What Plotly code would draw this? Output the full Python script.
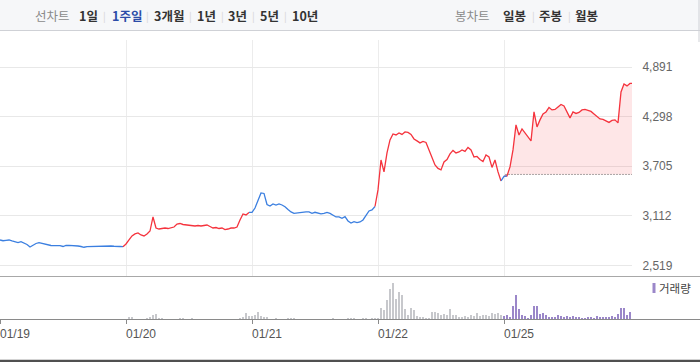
import plotly.graph_objects as go

W, H = 700, 362

# ---------------- data ----------------
DATES = ["01/19", "01/20", "01/21", "01/22", "01/25"]
PRICE_TICKS = [2519, 3112, 3705, 4298, 4891]
PRICE_TICK_TEXT = ["2,519", "3,112", "3,705", "4,298", "4,891"]
PREV_CLOSE = 3607

D1_PRICE = [2824, 2815, 2820, 2824, 2812, 2800, 2792, 2804, 2788, 2770, 2740, 2764, 2782, 2792,
            2782, 2770, 2760, 2758, 2756, 2758, 2756, 2746, 2758, 2760, 2760, 2756, 2752, 2746,
            2737, 2744, 2746, 2744, 2749, 2752, 2749, 2752, 2750, 2752, 2749, 2744, 2746, 2744]
D2_PRICE = [2776, 2824, 2872, 2896, 2908, 2884, 2872, 2896, 2931, 3099, 2967, 2955, 2961, 2967,
            2961, 2967, 2979, 3015, 3021, 3009, 3003, 2997, 2991, 2991, 2997, 2991, 2997, 3003,
            2985, 2967, 2973, 2961, 2967, 2949, 2955, 2967, 2967, 2979, 3063, 3135, 3123, 3153]
D3_PRICE = [3153, 3206, 3302, 3386, 3380, 3248, 3230, 3254, 3242, 3254, 3242, 3222, 3189, 3159,
            3141, 3147, 3153, 3159, 3159, 3159, 3143, 3155, 3143, 3135, 3141, 3153, 3141, 3117,
            3099, 3099, 3083, 3102, 3051, 3027, 3043, 3031, 3039, 3063, 3111, 3171, 3183, 3224]
D4_PRICE = [3422, 3780, 3637, 3864, 4020, 4091, 4079, 4103, 4085, 4115, 4109, 4085, 4031, 4008,
            3984, 4002, 3990, 3900, 3804, 3721, 3679, 3661, 3756, 3786, 3852, 3894, 3864, 3876,
            3900, 3882, 3930, 3900, 3816, 3822, 3786, 3762, 3840, 3816, 3691, 3780, 3637, 3529]
D5_PRICE = [3583, 3589, 3697, 3900, 4199, 4079, 4151, 4103, 4043, 4008, 4354, 4175, 4259, 4330,
            4354, 4408, 4378, 4384, 4414, 4444, 4426, 4354, 4283, 4354, 4336, 4348, 4378, 4384,
            4372, 4360, 4330, 4295, 4271, 4265, 4247, 4229, 4253, 4259, 4223, 4593, 4689, 4665, 4695]

D1_VOL = [100, 80, 100, 80, 100, 100, 80, 100, 80, 100, 80, 100, 100, 80,
          100, 80, 100, 80, 100, 100, 80, 100, 80, 100, 80, 100, 100, 80,
          100, 80, 100, 80, 100, 100, 80, 100, 80, 100, 80, 100, 100, 80]
D2_VOL = [300, 1700, 1700, 300, 300, 300, 300, 1300, 1700, 4000, 4700, 1000, 1000, 300,
          300, 300, 300, 300, 1000, 1000, 300, 300, 1000, 300, 300, 300, 300, 300,
          300, 300, 300, 300, 300, 300, 300, 300, 300, 300, 1300, 2000, 6000, 2700]
D3_VOL = [3300, 4000, 7300, 2700, 2000, 1700, 300, 300, 1000, 300, 300, 300, 1000, 1000,
          1000, 300, 300, 300, 300, 300, 300, 300, 300, 300, 300, 300, 300, 1000,
          300, 300, 300, 300, 1000, 1000, 1000, 300, 300, 1000, 1000, 300, 1000, 1000]
D4_VOL = [700, 11000, 8700, 19000, 29700, 35700, 20300, 26700, 24000, 10000, 3700, 11000, 8700, 3300,
          2000, 2000, 1300, 1000, 6700, 7000, 6000, 3700, 5000, 4300, 9700, 4300, 3700, 2300,
          2000, 3000, 2000, 4300, 3000, 5700, 2700, 3700, 3700, 3000, 6000, 5000, 6000, 3700]
D5_VOL = [3000, 4000, 2300, 13000, 24000, 9700, 3700, 3000, 1300, 3700, 13000, 13000, 4700, 6300,
          3700, 2000, 2300, 2000, 3700, 2700, 1700, 3300, 2000, 3000, 2000, 1700, 1300, 1300,
          1700, 1700, 1300, 3000, 2000, 2000, 2000, 1700, 3000, 1700, 5300, 10700, 10700, 3700, 7300]

PRICES = [D1_PRICE, D2_PRICE, D3_PRICE, D4_PRICE, D5_PRICE]
VOLS = [D1_VOL, D2_VOL, D3_VOL, D4_VOL, D5_VOL]

# ---------------- style ----------------
SLOTS_PER_DAY = 42
PX_PER_SLOT = 3
RED = "#f5333d"
BLUE = "#3b7fe0"
DAY_COLORS = [BLUE, RED, BLUE, RED, RED]
GRAY_BAR = "#c7c8cc"
PURPLE_BAR = "#9b87c9"
FONT_KR = "Noto Sans CJK KR"
FONT_NUM = "Liberation Sans"

PLOT_RIGHT = 632
PRICE_TOP, PRICE_BOT = 40, 276
VOL_TOP, VOL_BOT = 276, 319


def xp(x):
    return x / W


def yp(y):
    return 1 - y / H


# pixel/price mapping of the price axis (grid 2519 at y=265.5, 4891 at y=67)
ppp = (4891 - 2519) / (265.5 - 67)
y_lo = 2519 - (PRICE_BOT - 265.5) * ppp
y_hi = 4891 + (67 - PRICE_TOP) * ppp
x_max = PLOT_RIGHT / PX_PER_SLOT

fig = go.Figure()

# volume bars
for d, vols in enumerate(VOLS):
    xs = [d * SLOTS_PER_DAY + i for i in range(len(vols))]
    fig.add_trace(go.Bar(x=xs, y=vols, xaxis="x2", yaxis="y2", width=0.4,
                         marker=dict(color=PURPLE_BAR if d == 4 else GRAY_BAR, line=dict(width=0)),
                         showlegend=False, hoverinfo="skip"))

# price lines, per day
for d in range(4):
    xs = [d * SLOTS_PER_DAY + i for i in range(len(PRICES[d]))]
    ys = list(PRICES[d])
    if d > 0:
        xs = [d * SLOTS_PER_DAY - 1] + xs
        ys = [PRICES[d - 1][-1]] + ys
    fig.add_trace(go.Scatter(x=xs, y=ys, mode="lines", line=dict(color=DAY_COLORS[d], width=1.3),
                             showlegend=False, hoverinfo="skip"))

# last day: previous close baseline + filled line
start5 = 4 * SLOTS_PER_DAY
fig.add_trace(go.Scatter(x=[start5 + 0.5, x_max], y=[PREV_CLOSE, PREV_CLOSE], mode="lines",
                         line=dict(color="#555555", width=1, dash="1px,2px"),
                         showlegend=False, hoverinfo="skip"))
xs5 = [start5 + i for i in range(len(D5_PRICE))]
fig.add_trace(go.Scatter(x=xs5 + [x_max], y=D5_PRICE + [D5_PRICE[-1]], mode="lines",
                         line=dict(color=DAY_COLORS[4], width=1.3),
                         fill="tonexty", fillcolor="rgba(245,60,70,0.13)",
                         showlegend=False, hoverinfo="skip"))
fig.add_trace(go.Scatter(x=[start5 - 1, start5, start5 + 1],
                         y=[D4_PRICE[-1], D5_PRICE[0], D5_PRICE[1]], mode="lines",
                         line=dict(color=BLUE, width=1.3), showlegend=False, hoverinfo="skip"))

day_ticks = [d * SLOTS_PER_DAY for d in range(len(DATES))]

shapes = [
    # top toolbar
    dict(type="rect", xref="paper", yref="paper", x0=0, x1=1, y0=yp(30), y1=1,
         fillcolor="#f6f7f9", line=dict(width=0), layer="below"),
    dict(type="line", xref="paper", yref="paper", x0=0, x1=1, y0=yp(30.5), y1=yp(30.5),
         line=dict(color="#cfd1d6", width=1)),
    dict(type="line", xref="paper", yref="paper", x0=xp(699), x1=xp(699), y0=yp(0), y1=yp(42),
         line=dict(color="#cfd1d6", width=1)),
    # panel separator and volume axis line
    dict(type="line", xref="paper", yref="paper", x0=0, x1=1, y0=yp(276.5), y1=yp(276.5),
         line=dict(color="#a8a8a8", width=1)),
    dict(type="line", xref="paper", yref="paper", x0=0, x1=1, y0=yp(319.5), y1=yp(319.5),
         line=dict(color="#8a8a8a", width=1)),
    # bottom border
    dict(type="line", xref="paper", yref="paper", x0=0, x1=1, y0=yp(361), y1=yp(361),
         line=dict(color="#505050", width=2.5)),
    # volume legend swatch
    dict(type="rect", xref="paper", yref="paper", x0=xp(652.5), x1=xp(655.5), y0=yp(293), y1=yp(283),
         fillcolor=PURPLE_BAR, line=dict(width=0)),
]

annotations = [
    dict(text="거래량", x=xp(657), y=yp(288), xref="paper", yref="paper", xanchor="left",
         yanchor="middle", showarrow=False, font=dict(family=FONT_KR, size=11.5, color="#444")),
]

toolbar = [
    ("선차트", 33, "#8a8a8a", False), ("1일", 77, "#333333", True), ("|", 101, "#d5d5d5", False),
    ("1주일", 110, "#2c4ca8", True), ("|", 144, "#d5d5d5", False), ("3개월", 152, "#333333", True),
    ("|", 187, "#d5d5d5", False), ("1년", 195, "#333333", True), ("|", 219, "#d5d5d5", False),
    ("3년", 226, "#333333", True), ("|", 250, "#d5d5d5", False), ("5년", 258, "#333333", True),
    ("|", 282, "#d5d5d5", False), ("10년", 290, "#333333", True),
    ("봉차트", 453, "#8a8a8a", False), ("일봉", 501, "#333333", True), ("|", 530, "#d5d5d5", False),
    ("주봉", 537, "#333333", True), ("|", 566, "#d5d5d5", False), ("월봉", 573, "#333333", True),
]
for txt, x, col, bold in toolbar:
    annotations.append(dict(text=f"<b>{txt}</b>" if bold else txt, x=xp(x), y=yp(15.5),
                            xref="paper", yref="paper", xanchor="left", yanchor="middle",
                            showarrow=False,
                            font=dict(family=FONT_KR, size=12.5 if txt != "|" else 10, color=col)))

fig.update_layout(
    width=W, height=H, margin=dict(l=0, r=0, t=0, b=0, pad=0),
    paper_bgcolor="white", plot_bgcolor="white", showlegend=False, bargap=0,
    hovermode=False,
    xaxis=dict(domain=[0, xp(PLOT_RIGHT)], range=[0, x_max], anchor="y",
               tickvals=day_ticks, showticklabels=False, showgrid=True, gridcolor="#ececec",
               gridwidth=1, zeroline=False, showline=False, fixedrange=True),
    yaxis=dict(domain=[yp(PRICE_BOT), yp(PRICE_TOP)], range=[y_lo, y_hi], side="right",
               anchor="x", tickvals=PRICE_TICKS, ticktext=PRICE_TICK_TEXT, showgrid=True,
               gridcolor="#e8e8e8", zeroline=False, showline=False, ticks="outside",
               ticklen=7, tickcolor="rgba(0,0,0,0)", fixedrange=True,
               tickfont=dict(family=FONT_NUM, size=12, color="#666666")),
    xaxis2=dict(domain=[0, xp(PLOT_RIGHT)], range=[0, x_max], anchor="y2", matches="x",
                tickvals=day_ticks, ticktext=DATES, showgrid=False, zeroline=False,
                showline=False, ticks="outside", ticklen=4, tickcolor="#8a8a8a",
                ticklabelshift=15, ticklabeloverflow="allow",
                tickfont=dict(family=FONT_NUM, size=12, color="#555555")),
    yaxis2=dict(domain=[yp(VOL_BOT), yp(VOL_TOP)], range=[0, 43000], anchor="x2", fixedrange=True,
                showgrid=False, zeroline=False, showline=False, showticklabels=False, ticks=""),
    shapes=shapes, annotations=annotations,
)

fig.write_html("out.html", config={"displayModeBar": False, "staticPlot": True},
               post_script="document.body.style.margin='0';document.body.style.padding='0';")
